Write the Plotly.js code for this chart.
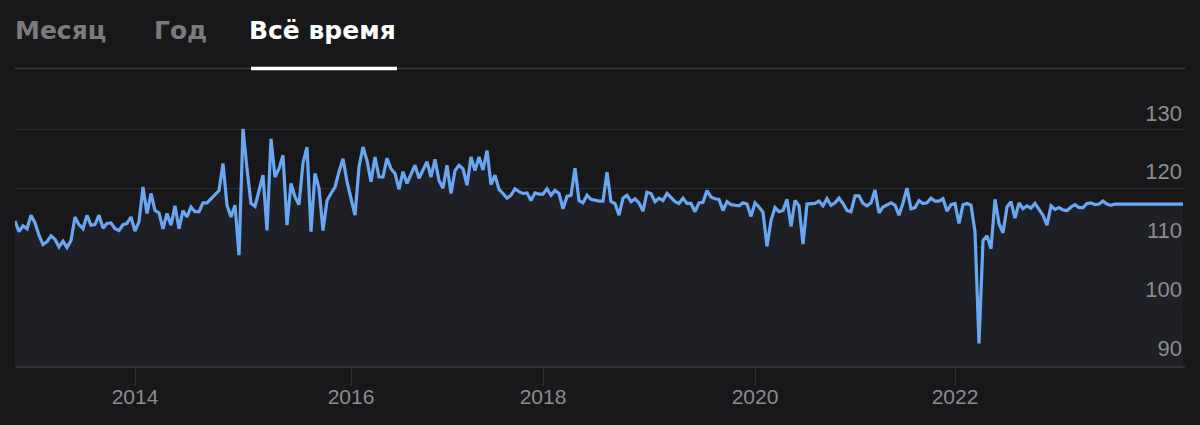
<!DOCTYPE html>
<html>
<head>
<meta charset="utf-8">
<script src="https://cdn.plot.ly/plotly-3.0.1.min.js"></script>
<style>
  html, body { margin: 0; padding: 0; background: #18181a; }
  #chart { width: 1200px; height: 425px; }
</style>
</head>
<body>
<div id="chart"></div>
<script>
// Weekly values, in time order
const values2013 = [
  114.5, 112.7, 113.7, 113.2, 115.5, 114.2, 112.1, 110.5, 111.0, 112.0,
  111.4, 110.1, 111.1, 110.0, 111.2, 115.2, 113.9, 113.2, 115.5, 113.8,
  113.9, 115.5, 113.3, 114.1, 114.2, 113.2, 112.9, 113.9, 114.1, 115.2,
  112.8, 114.4, 120.3, 115.8, 119.2, 116.3, 115.9, 113.2, 115.8, 113.8,
  117.1, 113.2, 116.3, 115.2, 116.9, 116.1, 116.1, 117.6, 117.6, 118.3,
  118.9, 119.7, 124.3, 117.2, 115.2, 117.2, 108.7, 130.2, 123.4
];
const values2015 = [
  117.5, 117.0, 119.7, 122.3, 112.9, 128.5, 122.0, 123.4, 125.7, 113.8,
  120.9, 118.6, 117.3, 124.4, 127.1, 112.7, 122.6, 120.1, 112.9, 118.0,
  119.2, 120.3, 122.9, 125.1, 121.2, 118.3, 115.5, 123.7, 127.1, 124.8,
  121.2, 125.4, 122.0, 122.0, 125.2, 123.4, 122.6, 119.9, 122.9, 120.9,
  122.3, 124.0, 121.8, 123.1, 124.6, 122.0, 125.0, 121.4, 120.1, 124.0,
  119.2, 123.1, 124.0, 123.4, 120.6, 125.4, 123.1, 125.4, 123.2
];
const values2017 = [
  126.5, 120.7, 122.3, 119.9, 119.2, 118.4, 118.9, 120.0, 119.5, 119.2,
  119.3, 118.0, 119.3, 119.1, 119.1, 120.0, 118.9, 119.7, 119.2, 116.6,
  118.7, 118.9, 123.5, 118.0, 117.6, 118.9, 118.2, 118.0, 117.9, 117.9,
  122.8, 117.8, 117.5, 115.5, 118.4, 118.9, 117.8, 118.3, 117.6, 116.2,
  119.4, 119.2, 117.8, 118.4, 118.0, 119.2, 118.4, 117.8, 117.5, 118.4,
  117.5, 117.5, 116.1, 117.6, 117.7, 119.7, 118.6, 118.3, 118.2
];
const values2019 = [
  116.3, 117.8, 117.3, 117.2, 117.1, 117.6, 117.4, 115.3, 117.6, 116.9,
  116.0, 110.2, 114.6, 116.8, 116.1, 116.3, 118.2, 113.6, 118.0, 117.1,
  110.6, 117.4, 117.5, 117.5, 117.9, 117.1, 118.3, 117.2, 117.6, 118.4,
  117.5, 116.3, 116.1, 118.8, 118.8, 117.5, 117.1, 117.6, 119.8, 115.9,
  116.9, 117.2, 117.6, 117.2, 115.5, 117.6, 120.1, 116.6, 116.8, 118.0,
  117.5, 117.6, 118.4, 117.9, 117.9, 118.3, 116.2, 117.3
];
const values2022 = [
  117.5, 114.1, 117.3, 117.5, 117.2, 112.7, 93.7, 111.2, 112.0, 109.8,
  118.2, 114.1, 112.5, 116.9, 117.8, 115.0, 117.6, 116.6, 117.1, 116.7,
  117.5, 116.5, 115.5, 113.8, 117.1, 116.5, 116.8, 116.4, 116.3, 116.9,
  117.3, 116.8, 116.8, 117.5, 117.6, 117.3, 117.4, 117.9, 117.4, 117.2,
  117.4, 117.4, 117.4, 117.4, 117.4, 117.3, 117.4, 117.3, 117.3, 117.3,
  117.3, 117.3, 117.4, 117.3, 117.3, 117.3, 117.4, 117.4
];

// x-axis: tick labels and the index of the week where each year starts
const yearLabels = ['2014', '2016', '2018', '2020', '2022'];
const yearStartIndex = [30, 84, 132, 185, 235];

// y-axis ticks
const yTicks = [90, 100, 110, 120, 130];

// tabs
const tabLabels = ['Месяц', 'Год', 'Всё время'];

const values = [].concat(values2013, values2015, values2017, values2019, values2022);
const xs = values.map((v, i) => i);

const trace = {
  x: xs,
  y: values,
  type: 'scatter',
  mode: 'lines',
  line: { color: '#69a7f2', width: 3.2 },
  fill: 'tozeroy',
  fillcolor: '#1e2025',
  hoverinfo: 'skip'
};

const grey = '#8c8c8f';
const tabFont = (c) => ({ family: 'DejaVu Sans', size: 25, color: c, weight: 'bold' });
const tabY = (366 - 30) / 266;
const lineY = (366 - 68.5) / 266;

const layout = {
  width: 1200,
  height: 425,
  margin: { l: 15, r: 15, t: 100, b: 59, pad: 0 },
  paper_bgcolor: '#18181a',
  plot_bgcolor: '#18181a',
  showlegend: false,
  font: { family: 'Liberation Sans, Arial, sans-serif', color: grey },
  xaxis: {
    range: [0, values.length - 0.5],
    tickmode: 'array',
    tickvals: yearStartIndex,
    ticktext: yearLabels,
    ticks: 'outside',
    ticklen: 18,
    tickwidth: 1,
    tickcolor: '#2e2f33',
    ticklabelstandoff: -7,
    tickfont: { size: 21, color: grey },
    showgrid: false,
    zeroline: false,
    showline: true,
    linecolor: '#2e2f33',
    linewidth: 2,
    fixedrange: true
  },
  yaxis: {
    range: [89.85, 135.1],
    side: 'right',
    tickmode: 'array',
    tickvals: yTicks,
    ticks: '',
    ticklabelposition: 'inside',
    ticklabelshift: -17,
    tickfont: { size: 22, color: grey },
    showgrid: true,
    gridcolor: '#2b2c30',
    gridwidth: 1,
    zeroline: false,
    showline: false,
    fixedrange: true
  },
  annotations: [
    { text: tabLabels[0], xref: 'paper', yref: 'paper', x: (13 - 15) / 1170, y: tabY, xanchor: 'left', yanchor: 'middle', showarrow: false, font: tabFont('#7b7b7d') },
    { text: tabLabels[1], xref: 'paper', yref: 'paper', x: (152 - 15) / 1170, y: tabY, xanchor: 'left', yanchor: 'middle', showarrow: false, font: tabFont('#7b7b7d') },
    { text: tabLabels[2], xref: 'paper', yref: 'paper', x: (247 - 15) / 1170, y: tabY, xanchor: 'left', yanchor: 'middle', showarrow: false, font: tabFont('#ffffff') }
  ],
  shapes: [
    { type: 'line', xref: 'paper', yref: 'paper', x0: 0, x1: 1, y0: lineY, y1: lineY,
      line: { color: '#3a3a3d', width: 1.5 } },
    { type: 'line', xref: 'paper', yref: 'paper', x0: (251 - 15) / 1170, x1: (397 - 15) / 1170, y0: lineY, y1: lineY,
      line: { color: '#ffffff', width: 3.5 } }
  ]
};

Plotly.newPlot('chart', [trace], layout, { displayModeBar: false, staticPlot: true });
</script>
</body>
</html>
